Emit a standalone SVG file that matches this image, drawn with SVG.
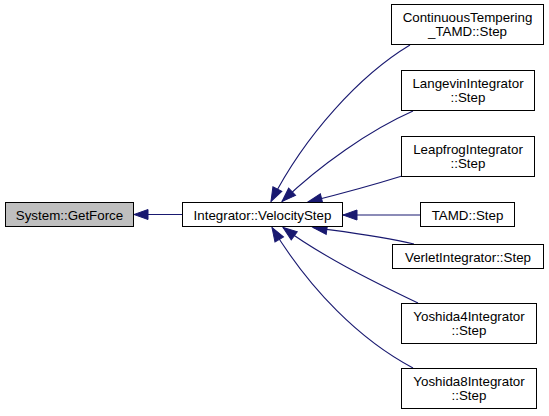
<svg xmlns="http://www.w3.org/2000/svg" width="549" height="416" viewBox="0 0 549 416">
<defs>
<style>
.box{fill:#ffffff;stroke:#000000;stroke-width:1}
.root{fill:#bfbfbf}
.lbl{font-family:"Liberation Sans",Arial,Helvetica,sans-serif;font-size:13.33px;fill:#000000;text-anchor:middle}
.edge{fill:none;stroke:#191970;stroke-width:1.1}
</style>
<marker id="ah" markerUnits="userSpaceOnUse" markerWidth="15" markerHeight="11" refX="14" refY="5" orient="auto" overflow="visible">
<path d="M0,0 L14,5 L0,10 Z" fill="#191970" stroke="#191970" stroke-width="1"/>
</marker>
</defs>
<rect width="549" height="416" fill="#ffffff"/>
<g id="connectors">
<path class="edge" marker-end="url(#ah)" d="M182,214.5 L134,214.5"/>
<path class="edge" marker-end="url(#ah)" d="M410,45 C360,75 305,135 271,201.5"/>
<path class="edge" marker-end="url(#ah)" d="M413,111 C370,130 320,165 282,201.5"/>
<path class="edge" marker-end="url(#ah)" d="M402,176 C370,186 340,194 308,202"/>
<path class="edge" marker-end="url(#ah)" d="M420,215 L343,215"/>
<path class="edge" marker-end="url(#ah)" d="M414,244 C380,236 345,232 313,227.5"/>
<path class="edge" marker-end="url(#ah)" d="M418,303 C370,280 320,255 283,227.5"/>
<path class="edge" marker-end="url(#ah)" d="M413,368 C360,340 310,290 272,227.5"/>
</g>
<g id="node-getforce">
<rect class="box root" x="5.5" y="202.5" width="128" height="24"/>
<text class="lbl" x="69.5" y="219.5">System::GetForce</text>
</g>
<g id="node-velocitystep">
<rect class="box" x="182.5" y="202.5" width="160" height="24"/>
<text class="lbl" x="262.5" y="219.5">Integrator::VelocityStep</text>
</g>
<g id="node-continuous">
<rect class="box" x="391.5" y="4.5" width="152" height="40"/>
<text class="lbl" x="467.5" y="22">ContinuousTempering</text>
<text class="lbl" x="467.5" y="36">_TAMD::Step</text>
</g>
<g id="node-langevin">
<rect class="box" x="401.5" y="70.5" width="133" height="40"/>
<text class="lbl" x="468" y="88">LangevinIntegrator</text>
<text class="lbl" x="468" y="102">::Step</text>
</g>
<g id="node-leapfrog">
<rect class="box" x="401.5" y="136.5" width="133" height="40"/>
<text class="lbl" x="468" y="154">LeapfrogIntegrator</text>
<text class="lbl" x="468" y="168">::Step</text>
</g>
<g id="node-tamd">
<rect class="box" x="420.5" y="202.5" width="94" height="24"/>
<text class="lbl" x="467.5" y="219.5">TAMD::Step</text>
</g>
<g id="node-verlet">
<rect class="box" x="392.5" y="244.5" width="151" height="24"/>
<text class="lbl" x="468" y="261.5">VerletIntegrator::Step</text>
</g>
<g id="node-yoshida4">
<rect class="box" x="401.5" y="303.5" width="135" height="40"/>
<text class="lbl" x="469" y="321">Yoshida4Integrator</text>
<text class="lbl" x="469" y="335">::Step</text>
</g>
<g id="node-yoshida8">
<rect class="box" x="401.5" y="368.5" width="135" height="40"/>
<text class="lbl" x="469" y="386">Yoshida8Integrator</text>
<text class="lbl" x="469" y="400">::Step</text>
</g>
</svg>
